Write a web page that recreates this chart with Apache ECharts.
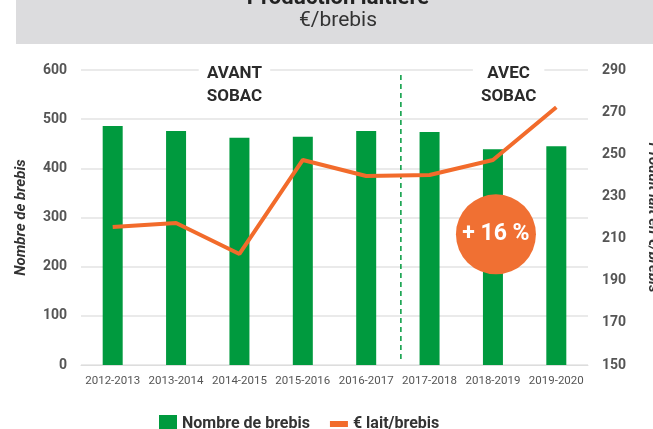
<!DOCTYPE html>
<html>
<head>
<meta charset="utf-8">
<script src="https://cdn.jsdelivr.net/npm/echarts@6/dist/echarts.min.js"></script>
<style>
  html, body { margin: 0; padding: 0; background: #fff; }
  #main { width: 653px; height: 429px; }
</style>
</head>
<body>
<div id="main"></div>
<script>
// campagnes
const campagnes = ['2012-2013', '2013-2014', '2014-2015', '2015-2016', '2016-2017', '2017-2018', '2018-2019', '2019-2020']
// nombre de brebis (axe gauche)
const nbBrebis = [486, 476, 462, 464, 476, 474, 439, 445]
// € lait / brebis (axe droit)
const laitBrebis = [215.5, 217.4, 202.7, 247.3, 239.7, 240.2, 247.3, 272.3]

const vert = '#009a3e'
const orange = '#f26b2b'
const fonte = 'Roboto, "Noto Sans", sans-serif'

const chart = echarts.init(document.getElementById('main'))

const option = {
  animation: false,
  textStyle: { fontFamily: fonte },
  grid: { left: 81, right: 65, top: 70, bottom: 64, containLabel: false, outerBoundsMode: 'none' },
  legend: {
    left: 154,
    top: 410,
    itemWidth: 18,
    itemHeight: 18,
    itemGap: 20,
    textStyle: { fontSize: 16, fontWeight: 'bold', color: '#333', fontFamily: fonte },
    data: [
      { name: 'Nombre de brebis', icon: 'rect' },
      { name: '€ lait/brebis', icon: 'path://M0,0h18v6h-18z' }
    ]
  },
  xAxis: {
    type: 'category',
    data: campagnes,
    axisLine: { lineStyle: { color: '#ddd' } },
    axisTick: { show: false },
    axisLabel: { color: '#555', fontSize: 11.5, margin: 10, interval: 0 }
  },
  yAxis: [
    {
      type: 'value',
      min: 0, max: 600, interval: 100,
      name: 'Nombre de brebis',
      nameLocation: 'middle',
      nameGap: 52,
      nameTextStyle: { fontStyle: 'italic', fontWeight: 'bold', fontSize: 15, color: '#333' },
      axisLabel: { color: '#555', fontWeight: 'bold', fontSize: 14, margin: 14 },
      splitLine: { lineStyle: { color: '#e3e3e3', width: 1.5 } }
    },
    {
      type: 'value',
      min: 150, max: 290, interval: 20,
      name: 'Produit lait en €/brebis',
      nameLocation: 'middle',
      nameGap: 57,
      nameRotate: -90,
      nameTextStyle: { fontStyle: 'italic', fontWeight: 'bold', fontSize: 15, color: '#333' },
      axisLabel: { color: '#555', fontWeight: 'bold', fontSize: 14, margin: 14 },
      splitLine: { show: false }
    }
  ],
  series: [
    {
      name: 'Nombre de brebis',
      type: 'bar',
      data: nbBrebis,
      barWidth: 20,
      itemStyle: { color: vert }
    },
    {
      name: '€ lait/brebis',
      type: 'line',
      yAxisIndex: 1,
      data: laitBrebis,
      showSymbol: false,
      symbol: 'none',
      lineStyle: { color: orange, width: 4 },
      itemStyle: { color: orange },
      z: 5
    }
  ]
}

chart.setOption(option)

// éléments graphiques placés avec les échelles
const px = i => chart.convertToPixel({ xAxisIndex: 0 }, campagnes[i])
const xSep = (px(4) + px(5)) / 2 + 3
const xAvant = px(2) - 5
const xAvec = (px(6) + px(7)) / 2 - 16
const yTop = chart.convertToPixel({ yAxisIndex: 0 }, 600)
const yBas = chart.convertToPixel({ yAxisIndex: 0 }, 0)
const xBulle = px(6) + 3
const yBulle = chart.convertToPixel({ yAxisIndex: 1 }, 212)

const titreBloc = { fontSize: 17, fontWeight: 'bold', fill: '#2b2b2b', fontFamily: fonte, lineHeight: 23, align: 'center', backgroundColor: '#fff', padding: [0, 8] }

chart.setOption({
  graphic: [
    { type: 'rect', shape: { x: 16, y: 0, width: 640, height: 44 }, style: { fill: '#dcdcde' }, z: 0 },
    { type: 'text', x: 338, y: -13, style: { text: 'Production laitière', fontSize: 22, fontWeight: 'bold', fill: '#222', align: 'center', fontFamily: fonte } },
    { type: 'text', x: 338, y: 10, style: { text: '€/brebis', fontSize: 21, fill: '#333', align: 'center', fontFamily: '"Liberation Sans Narrow", Roboto, sans-serif' } },
    { type: 'line', shape: { x1: xSep, y1: yTop + 5, x2: xSep, y2: yBas - 4 }, style: { stroke: vert, lineWidth: 1.5, lineDash: [5, 4] }, z: 3 },
    { type: 'text', x: xAvant, y: yTop - 8, style: Object.assign({ text: 'AVANT\nSOBAC' }, titreBloc), z: 4 },
    { type: 'text', x: xAvec, y: yTop - 8, style: Object.assign({ text: 'AVEC\nSOBAC' }, titreBloc), z: 4 },
    { type: 'circle', shape: { cx: xBulle, cy: yBulle, r: 40 }, style: { fill: '#f07033' }, z: 10 },
    { type: 'text', x: xBulle, y: yBulle, style: { text: '+ 16 %', fontSize: 23, fontWeight: 'bold', fill: '#fff', align: 'center', verticalAlign: 'middle', fontFamily: fonte }, z: 11 }
  ]
})
</script>
</body>
</html>
